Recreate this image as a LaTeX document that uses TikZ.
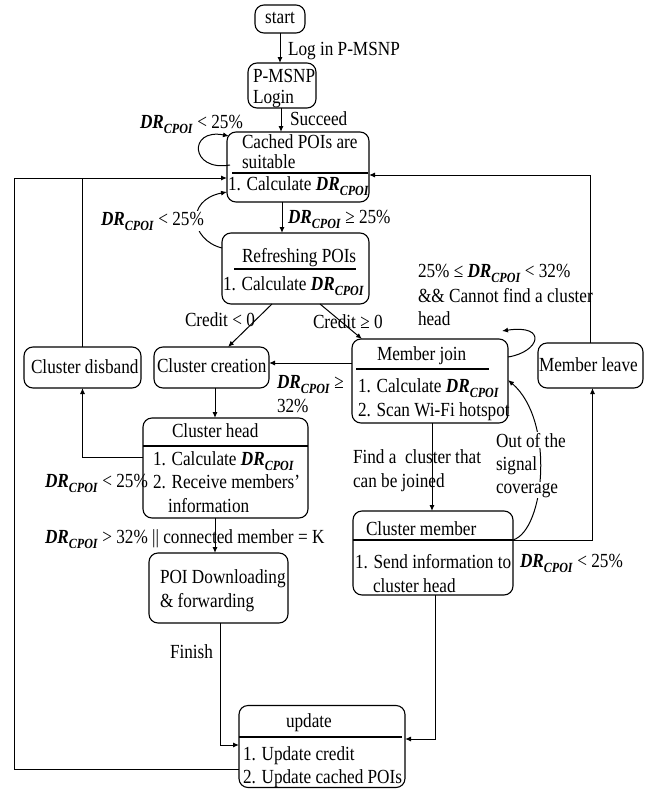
\documentclass[tikz,border=0pt]{standalone}
\usepackage{fontspec}
\setmainfont{Liberation Serif}[FakeStretch=0.86]
\usetikzlibrary{arrows.meta}
% bold italic DR with lowered CPOI index
\newcommand{\DRc}{\textbf{\textit{DR}\raisebox{-5pt}{\fontsize{14}{14}\selectfont\textit{CPOI}}}}
\begin{document}
\begin{tikzpicture}[x=1pt,y=-1pt,
  font=\fontsize{20}{24}\selectfont,
  box/.style={draw, rounded corners=9pt, line width=1.1pt, inner sep=0pt, outer sep=0pt},
  rule/.style={line width=1.1pt},
  arr/.style={-{Latex[length=6pt,width=5pt]}, line width=1pt},
  link/.style={line width=1pt},
  txt/.style={anchor=base west, inner sep=0pt, outer sep=0pt},
  mask/.style={anchor=base west, inner sep=1pt, outer sep=0pt, fill=white}]
\useasboundingbox (0,0) rectangle (651,790);

% ---------- boxes ----------
\node[box, minimum width=50pt,  minimum height=28pt]  (start)    at (280,19) {};
\node[box, minimum width=68pt,  minimum height=45pt]  (login)    at (282,85.5) {};
\node[box, minimum width=142pt, minimum height=70pt]  (cached)   at (298,167) {};
\node[box, minimum width=147pt, minimum height=71pt]  (refresh)  at (295.5,268.5) {};
\node[box, minimum width=117pt, minimum height=41pt]  (disband)  at (82.5,367.5) {};
\node[box, minimum width=115pt, minimum height=41pt]  (creation) at (211.5,367.5) {};
\node[box, minimum width=156pt, minimum height=84pt]  (mjoin)    at (430,381) {};
\node[box, minimum width=105pt, minimum height=45pt]  (mleave)   at (590.5,365.5) {};
\node[box, minimum width=165pt, minimum height=100pt] (chead)    at (225.5,468) {};
\node[box, minimum width=139pt, minimum height=70pt]  (poi)      at (218.5,588) {};
\node[box, minimum width=160pt, minimum height=84pt]  (cmember)  at (433,553) {};
\node[box, minimum width=166pt, minimum height=82pt]  (update)   at (322,746.5) {};

% ---------- dividers inside the boxes ----------
\draw[rule] ([xshift=5pt,yshift=-6pt]cached.west) -- ([xshift=-1pt,yshift=-6pt]cached.east);
\draw[rule] ([xshift=12pt,yshift=-0.5pt]refresh.west) -- ([xshift=-13pt,yshift=-0.5pt]refresh.east);
\draw[rule] ([xshift=4pt,yshift=12pt]mjoin.west) -- ([xshift=-19pt,yshift=12pt]mjoin.east);
\draw[rule] ([yshift=22pt]chead.west) -- ([yshift=22pt]chead.east);
\draw[rule] ([yshift=13pt]cmember.west) -- ([yshift=13pt]cmember.east);
\draw[rule] ([yshift=9.5pt]update.west) -- ([xshift=-3pt,yshift=9.5pt]update.east);

% ---------- connectors ----------
\coordinate (leftc) at (14,178);
\draw[arr] (start.south) -- (start.south |- login.north);
\draw[arr] ([xshift=-1pt]login.south) -- ([xshift=-1pt]login.south |- cached.north);
\draw[arr] ([xshift=3pt,yshift=2pt]cached.west) .. controls (190,172) and (188,128) .. ([xshift=2pt,yshift=31pt]cached.west);
\draw[arr] ([yshift=-22.5pt]update.west) -| (leftc) -- ([yshift=-11pt]cached.west);
\draw[link] (disband.north) -- (disband.north |- leftc);
\draw[arr] (mleave.north) |- ([yshift=-8pt]cached.east);
\draw[arr] ([yshift=20.5pt]refresh.west) .. controls (190,240) and (185,200) .. ([yshift=-25pt]cached.west);
\draw[arr] ([xshift=-16pt]cached.south) -- ([xshift=-16pt]cached.south |- refresh.north);
\draw[arr] ([xshift=-23.5pt]refresh.south) -- ([xshift=16.5pt]creation.north);
\draw[arr] ([xshift=24.5pt]refresh.south) -- ([xshift=10pt]mjoin.north west);
\draw[arr] ([yshift=18pt]mjoin.west) -- ([yshift=18pt]mjoin.west -| creation.east);
\draw[arr] ([yshift=24pt]mjoin.east) .. controls (540,352) and (548,324) .. ([xshift=-6pt,yshift=8pt]mjoin.north east);
\draw[arr] ([xshift=2pt]mjoin.south) -- ([xshift=2pt]mjoin.south |- cmember.north);
\draw[arr] ([yshift=13pt]cmember.east) -| ([xshift=2pt]mleave.south);
\draw[arr] ([yshift=13pt]cmember.east) .. controls (545,530) and (555,420) .. ([yshift=1pt]mjoin.east);
\draw[arr] ([xshift=2pt]cmember.south) |- ([yshift=7.5pt]update.east);
\draw[arr] ([xshift=3.5pt]creation.south) -- ([xshift=3.5pt]creation.south |- chead.north);
\draw[arr] ([yshift=11pt]chead.west) -| (disband.south);
\draw[arr] ([xshift=-10.5pt]chead.south) -- ([xshift=-10.5pt]chead.south |- poi.north);
\draw[arr] ([xshift=1.5pt]poi.south) |- ([yshift=1.5pt]update.west);

% ---------- box texts ----------
\node[anchor=base, inner sep=0pt] (tstart) at (280,23) {start};
\node[txt] (tlog1) at (253,82) {P-MSNP};
\node[txt] (tlog2) at (253,103) {Login};
\node[txt] (tca1) at (242,148) {Cached POIs are};
\node[txt] (tca2) at (242,168) {suitable};
\node[txt] (tca3) at (228,190) {1. Calculate \DRc};
\node[txt] (tre1) at (242,262) {Refreshing POIs};
\node[txt] (tre2) at (223,290) {1. Calculate \DRc};
\node[txt] (tdis) at (31,373) {Cluster disband};
\node[txt] (tcre) at (157,372) {Cluster creation};
\node[txt] (tmj1) at (377,360) {Member join};
\node[txt] (tmj2) at (358,392) {1. Calculate \DRc};
\node[txt] (tmj3) at (358,416) {2. Scan Wi-Fi hotspot};
\node[txt] (tml)  at (539,371) {Member leave};
\node[txt] (tch1) at (172,437) {Cluster head};
\node[txt] (tch2) at (153,465) {1. Calculate \DRc};
\node[txt] (tch3) at (153,488) {2. Receive members'};
\node[txt] (tch4) at (168,512) {information};
\node[txt] (tpo1) at (160,583) {POI Downloading};
\node[txt] (tpo2) at (160,607) {\& forwarding};
\node[txt] (tcm1) at (366,535) {Cluster member};
\node[txt] (tcm2) at (355,568) {1. Send information to};
\node[txt] (tcm3) at (373,592) {cluster head};
\node[txt] (tup1) at (286,727) {update};
\node[txt] (tup2) at (243,760) {1. Update credit};
\node[txt] (tup3) at (243,783) {2. Update cached POIs};

% ---------- connector labels ----------
\node[txt] (llog)  at (288,55)  {Log in P-MSNP};
\node[txt] (lsuc)  at (290,125) {Succeed};
\node[txt] (lself) at (140,128) {\DRc{} < 25\%};
\node[mask] (lback) at (100,225) {\DRc{} < 25\%};
\node[txt] (lref)  at (288,223) {\DRc{} ≥ 25\%};
\node[txt] (lcn)   at (185,326) {Credit < 0};
\node[txt] (lcp)   at (313,328) {Credit ≥ 0};
\node[txt] (lmj1)  at (418,277) {25\% ≤ \DRc{} < 32\%};
\node[txt] (lmj2)  at (418,302) {\&\& Cannot find a cluster};
\node[txt] (lmj3)  at (418,325) {head};
\node[txt] (lcr1)  at (277,388) {\DRc{} ≥};
\node[txt] (lcr2)  at (277,412) {32\%};
\node[txt] (ldis)  at (45,487)  {\DRc{} < 25\%};
\node[txt] (lpoi)  at (45,543)  {\DRc{} > 32\% || connected member = K};
\node[txt] (lfi1)  at (353,463) {Find a~ cluster that};
\node[txt] (lfi2)  at (353,487) {can be joined};
\node[mask] (lout1) at (495,447) {Out of the};
\node[mask] (lout2) at (495,470) {signal\strut};
\node[mask] (lout3) at (495,493) {coverage};
\node[txt] (lleave) at (520,567) {\DRc{} < 25\%};
\node[txt] (lfin)  at (170,658) {Finish};
\end{tikzpicture}
\end{document}
